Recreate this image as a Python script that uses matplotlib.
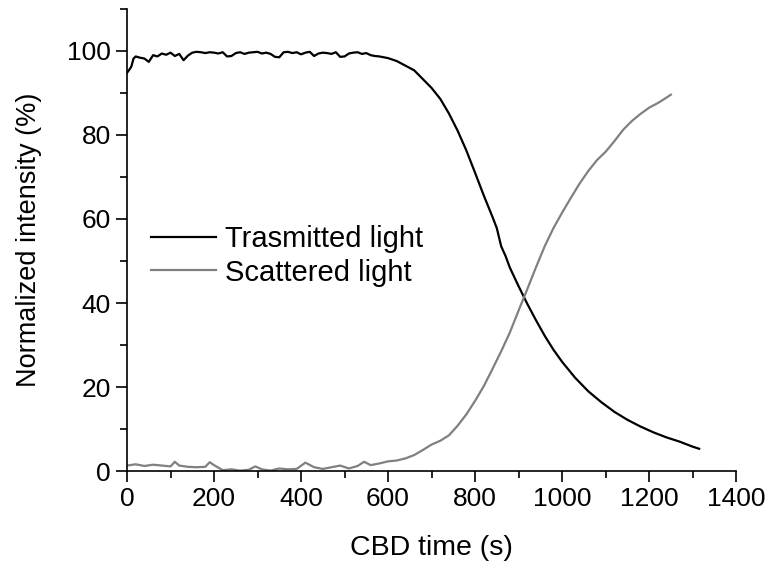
import numpy as np
import matplotlib
matplotlib.use("Agg")
import matplotlib.pyplot as plt
from matplotlib.ticker import MultipleLocator

# Transmitted light (time in s, normalized intensity %)
t_trans = [0, 5, 10, 15, 20, 30, 40, 50, 60, 70, 80, 90, 100, 110, 120, 130, 140, 150,
           160, 170, 180, 190, 200, 210, 220, 230, 240, 250, 260, 270, 280, 290, 300,
           310, 320, 330, 340, 350, 360, 370, 380, 390, 400, 410, 420, 430, 440, 450,
           460, 470, 480, 490, 500, 510, 520, 530, 540, 550, 560, 570, 580, 590, 600,
           620, 640, 660, 680, 700, 720, 740, 760, 780, 800, 820, 840, 850, 860, 870,
           880, 900, 920, 940, 960, 980, 1000, 1030, 1060, 1090, 1120, 1150, 1180,
           1210, 1240, 1270, 1300, 1315]
v_trans = [94.8, 95.5, 96.3, 98.2, 98.7, 98.4, 98.2, 97.4, 99.0, 98.7, 99.4, 99.1, 99.6,
           98.8, 99.3, 97.8, 98.9, 99.6, 99.8, 99.7, 99.5, 99.7, 99.6, 99.4, 99.7, 98.7,
           98.8, 99.5, 99.7, 99.3, 99.6, 99.7, 99.8, 99.4, 99.6, 99.3, 98.6, 98.5, 99.7,
           99.8, 99.5, 99.7, 99.2, 99.6, 99.8, 98.8, 99.4, 99.6, 99.5, 99.3, 99.7, 98.6,
           98.7, 99.4, 99.6, 99.7, 99.3, 99.5, 99.0, 98.8, 98.7, 98.5, 98.3,
           97.6, 96.5, 95.4, 93.3, 91.2, 88.6, 85.1, 81.0, 76.3, 71.0, 65.6, 60.5, 57.8,
           53.5, 51.2, 48.4, 44.0, 39.8, 35.9, 32.2, 28.9, 26.0, 22.2, 19.0, 16.4, 14.1,
           12.2, 10.6, 9.2, 8.0, 7.0, 5.8, 5.3]

# Scattered light
t_scat = [0, 20, 40, 60, 80, 100, 110, 120, 140, 160, 180, 190, 200, 220, 240, 260,
          280, 295, 310, 330, 350, 370, 390, 410, 430, 450, 470, 490, 510, 530, 545,
          560, 580, 600, 620, 640, 660, 680, 700, 720, 740, 760, 780, 800, 820, 840,
          860, 880, 900, 920, 940, 960, 980, 1000, 1020, 1040, 1060, 1080, 1100, 1120,
          1140, 1160, 1180, 1200, 1220, 1240, 1250]
v_scat = [1.3, 1.6, 1.2, 1.5, 1.3, 1.1, 2.2, 1.3, 1.0, 0.9, 1.0, 2.1, 1.4, 0.2, 0.4,
          0.1, 0.3, 1.1, 0.4, 0.1, 0.6, 0.4, 0.5, 2.0, 0.9, 0.5, 0.9, 1.3, 0.6, 1.2,
          2.2, 1.4, 1.8, 2.3, 2.5, 3.0, 3.8, 5.0, 6.3, 7.2, 8.5, 10.8, 13.5, 16.7, 20.2,
          24.3, 28.5, 33.0, 38.2, 43.3, 48.5, 53.5, 57.8, 61.5, 65.0, 68.4, 71.4, 74.0,
          76.0, 78.5, 81.2, 83.3, 85.0, 86.5, 87.6, 88.9, 89.6]

x_ticks = [0, 200, 400, 600, 800, 1000, 1200, 1400]
y_ticks = [0, 20, 40, 60, 80, 100]

plt.rcParams['font.family'] = ['Liberation Sans', 'DejaVu Sans']

fig = plt.figure(figsize=(7.66, 5.61), dpi=100)
ax = fig.add_axes([0.1658, 0.1604, 0.7952, 0.8236])

ax.plot(t_trans, v_trans, color='black', lw=1.6, label='Trasmitted light')
ax.plot(t_scat, v_scat, color='#808080', lw=1.6, label='Scattered light')

ax.set_xlim(0, 1400)
ax.set_ylim(0, 110)
ax.set_xticks(x_ticks)
ax.set_yticks(y_ticks)
ax.xaxis.set_minor_locator(MultipleLocator(100))
ax.yaxis.set_minor_locator(MultipleLocator(10))
ax.tick_params(which='major', direction='out', length=8, width=1.2, labelsize=19, colors='black')
ax.tick_params(which='minor', direction='out', length=5, width=1.2)
for s in ['top', 'right']:
    ax.spines[s].set_visible(False)
for s in ['left', 'bottom']:
    ax.spines[s].set_linewidth(1.2)

ax.set_xlabel('CBD time (s)', fontsize=20.5, labelpad=17)
ax.set_ylabel('Normalized intensity (%)', fontsize=19.5, labelpad=18)

ax.legend(loc='upper left', bbox_to_anchor=(0.02, 0.558), frameon=False, fontsize=21,
          handlelength=2.25, handletextpad=0.3, labelspacing=0.2, borderaxespad=0)

fig.savefig('out.png', dpi=100)
